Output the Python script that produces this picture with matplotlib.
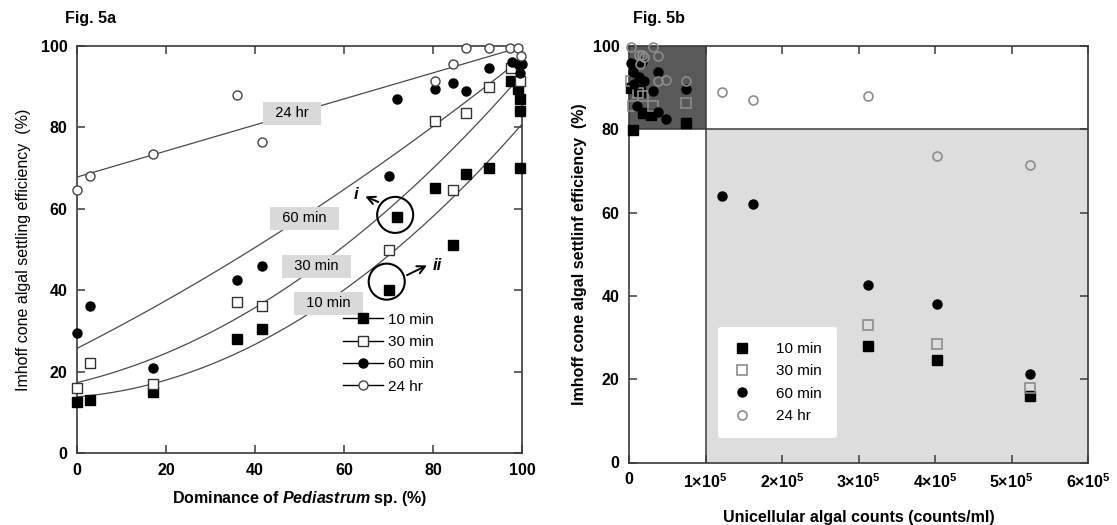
import matplotlib
matplotlib.use("Agg")
import matplotlib.pyplot as plt
import numpy as np
from matplotlib.patches import Ellipse, Rectangle
from matplotlib.lines import Line2D

plt.rcParams['font.family'] = ['Liberation Sans', 'DejaVu Sans']
plt.rcParams['mathtext.fontset'] = 'custom'
plt.rcParams['mathtext.it'] = 'Liberation Sans:bold:italic'
plt.rcParams['mathtext.bf'] = 'Liberation Sans:bold'
plt.rcParams['mathtext.rm'] = 'Liberation Sans:bold'

# ---------------- Fig. 5a data ----------------
series_names = ['10 min', '30 min', '60 min', '24 hr']
a_x10 = [0, 3, 17, 36, 41.5, 70, 72, 80.5, 84.5, 87.5, 92.5, 97.5, 99.2, 99.6, 99.6, 99.6]
a_y10 = [12.5, 13, 15, 28, 30.5, 40, 58, 65, 51, 68.5, 70, 91.5, 89.5, 87, 84, 70]
a_x30 = [0, 3, 17, 36, 41.5, 70, 80.5, 84.5, 87.5, 92.5, 97.5, 99.5]
a_y30 = [16, 22, 17, 37, 36, 50, 81.5, 64.5, 83.5, 90, 94.5, 91.5]
a_x60 = [0, 3, 17, 36, 41.5, 70, 72, 80.5, 84.5, 87.5, 92.5, 97.8, 99.2, 100, 99.6]
a_y60 = [29.5, 36, 21, 42.5, 46, 68, 87, 89.5, 91, 89, 94.5, 96, 95.5, 95.5, 93.3]
a_x24 = [0, 3, 17, 36, 41.5, 80.5, 84.5, 87.5, 92.5, 97.4, 99.2, 99.8]
a_y24 = [64.5, 68, 73.5, 88, 76.5, 91.5, 95.5, 99.5, 99.5, 99.5, 99.5, 97.5]

# fitted curves y = c0 + c1*x + c2*x^2
fit_10 = [13.8, 0.09, 0.0058]
fit_30 = [17.3, 0.262, 0.00495]
fit_60 = [25.7, 0.557, 0.00156]
fit_24 = [67.8, 0.32, 0.0]
curve_labels = ['24 hr', '60 min', '30 min', '10 min']
curve_label_xy = [(48.3, 83.5), (51.1, 57.7), (53.8, 45.9), (56.5, 36.8)]

# ---------------- Fig. 5b data ----------------
b_x10 = [3e3, 5e3, 11e3, 14e3, 18e3, 29e3, 74e3, 3.12e5, 4.02e5, 5.24e5]
b_y10 = [89.9, 79.8, 89.5, 89, 84, 83.4, 81.4, 28, 24.5, 15.9]
b_x30 = [3e3, 5e3, 12e3, 18e3, 31e3, 74e3, 3.12e5, 4.02e5, 5.24e5]
b_y30 = [91.6, 85.6, 88.7, 87.9, 85.6, 86.4, 32.9, 28.4, 18]
b_x60 = [3e3, 7e3, 17e3, 38e3, 5e3, 13e3, 20e3, 31e3, 74e3, 10e3, 38e3, 49e3, 7e3,
         1.21e5, 1.62e5, 3.12e5, 4.02e5, 5.24e5]
b_y60 = [95.9, 95.4, 96.2, 93.8, 93.8, 92.6, 91.6, 89.2, 89.6, 85.6, 84.2, 82.4, 90.8,
         64, 62, 42.7, 38, 21.2]
b_x24 = [3e3, 31e3, 13e3, 17.5e3, 20e3, 38e3, 15e3, 38e3, 49e3, 74e3, 1.21e5, 1.62e5,
         3.12e5, 4.02e5, 5.24e5]
b_y24 = [99.8, 99.8, 97.8, 97.8, 97.4, 97.6, 95.6, 91.5, 91.8, 91.5, 89, 87, 88, 73.5, 71.5]
b_xticks = [0, 1e5, 2e5, 3e5, 4e5, 5e5, 6e5]
b_xtick_labels = ['0', '1×10$^{5}$', '2×10$^{5}$', '3×10$^{5}$', '4×10$^{5}$',
                  '5×10$^{5}$', '6×10$^{5}$']

W, H = 1117, 525
fig = plt.figure(figsize=(W / 100, H / 100), dpi=100)

spine_c = '#3a3a3a'
line_c = '#4a4a4a'


def style_axes(ax):
    for s in ax.spines.values():
        s.set_color(spine_c)
        s.set_linewidth(1.2)
    ax.tick_params(direction='in', length=6, width=1.1, color=spine_c,
                   top=True, right=True, labelsize=11.5, pad=7)
    for lab in ax.get_xticklabels() + ax.get_yticklabels():
        lab.set_fontweight('bold')


# ---------------- Left panel ----------------
axL = fig.add_axes([77 / W, 1 - 453 / H, 445 / W, 407 / H])
xx = np.linspace(0, 100, 200)
for coef in (fit_10, fit_30, fit_60, fit_24):
    axL.plot(xx, coef[0] + coef[1] * xx + coef[2] * xx ** 2, color=line_c, lw=0.9, zorder=2)

ms = 6.5
axL.plot(a_x10, a_y10, 's', color='black', ms=ms, zorder=4, clip_on=False)
axL.plot(a_x30, a_y30, 's', mfc='white', mec='#333333', mew=1.0, ms=ms, zorder=4, clip_on=False)
axL.plot(a_x60, a_y60, 'o', color='black', ms=ms, zorder=4, clip_on=False)
axL.plot(a_x24, a_y24, 'o', mfc='white', mec='#444444', mew=1.0, ms=ms, zorder=4, clip_on=False)

for lab, (lx, ly) in zip(curve_labels, curve_label_xy):
    axL.text(lx, ly, '  ' + lab + '  ', ha='center', va='center', fontsize=10.5, zorder=3,
             bbox=dict(boxstyle='square,pad=0.3', fc='#d9d9d9', ec='none'))

# circles i and ii
axL.add_patch(Ellipse((71.5, 58.5), 8.1, 8.85, fill=False, ec='black', lw=1.5, zorder=5))
axL.add_patch(Ellipse((69.6, 42.1), 8.1, 8.85, fill=False, ec='black', lw=1.5, zorder=5))
axL.annotate('', xy=(64.2, 63.3), xytext=(68.3, 61.4),
             arrowprops=dict(arrowstyle='->', lw=1.4, color='black', mutation_scale=14))
axL.text(62.7, 63.4, 'i', fontsize=12, fontweight='bold', style='italic', ha='center', va='center')
axL.annotate('', xy=(79.2, 46.4), xytext=(73.6, 43.4),
             arrowprops=dict(arrowstyle='->', lw=1.4, color='black', mutation_scale=14))
axL.text(80.9, 46.0, 'ii', fontsize=12, fontweight='bold', style='italic', ha='center', va='center')

axL.set_xlim(0, 100)
axL.set_ylim(0, 100)
axL.set_xticks(range(0, 101, 20))
axL.set_yticks(range(0, 101, 20))
style_axes(axL)
axL.set_xlabel(r'Dominance of $\mathit{Pediastrum}$ sp. (%)', fontsize=11.5,
               fontweight='bold', labelpad=8)
axL.set_ylabel('Imhoff cone algal settling efficiency  (%)', fontsize=11.5,
               fontweight='normal', labelpad=7)

hL = [Line2D([], [], color='black', lw=1.0, marker='s', ms=ms, mfc='black', mec='black'),
      Line2D([], [], color='black', lw=1.0, marker='s', ms=ms, mfc='white', mec='#333333'),
      Line2D([], [], color='black', lw=1.0, marker='o', ms=ms, mfc='black', mec='black'),
      Line2D([], [], color='black', lw=1.0, marker='o', ms=ms, mfc='white', mec='#444444')]
axL.legend(hL, series_names, loc='upper left', bbox_to_anchor=(0.585, 0.36), frameon=False,
           fontsize=11, handlelength=2.6, handletextpad=0.3, labelspacing=0.55,
           borderaxespad=0)

fig.text(65 / W, 1 - 18 / H, 'Fig. 5a', fontsize=11.5, fontweight='bold', va='center')

# ---------------- Right panel ----------------
axR = fig.add_axes([629 / W, 1 - 462.5 / H, 459 / W, 416.5 / H])
axR.add_patch(Rectangle((0, 80), 1e5, 20, fc='#595959', ec='none', zorder=0))
axR.add_patch(Rectangle((1e5, 0), 5e5, 80, fc='#dcdddc', ec='none', zorder=0))
axR.axhline(80, color=spine_c, lw=1.1, zorder=1)
axR.axvline(1e5, color=spine_c, lw=1.1, zorder=1)

msr = 6.5
open_c = '#8c8c8c'
axR.plot(b_x10, b_y10, 's', color='black', ms=msr, ls='none', zorder=4, clip_on=False, label='10 min')
axR.plot(b_x30, b_y30, 's', mfc='none', mec=open_c, mew=1.2, ms=msr, ls='none', zorder=4,
         clip_on=False, label='30 min')
axR.plot(b_x60, b_y60, 'o', color='black', ms=msr, ls='none', zorder=4, clip_on=False, label='60 min')
axR.plot(b_x24, b_y24, 'o', mfc='none', mec=open_c, mew=1.2, ms=msr, ls='none', zorder=4,
         clip_on=False, label='24 hr')

axR.set_xlim(0, 6e5)
axR.set_ylim(0, 100)
axR.set_xticks(b_xticks)
axR.set_xticklabels(b_xtick_labels)
axR.set_yticks(range(0, 101, 20))
style_axes(axR)
axR.set_xlabel('Unicellular algal counts (counts/ml)', fontsize=11.5, fontweight='bold',
               labelpad=14)
axR.set_ylabel('Imhoff cone algal settlinf efficiency  (%)', fontsize=11.5,
               fontweight='bold', labelpad=4)
legR = axR.legend(loc='lower left', bbox_to_anchor=(0.194, 0.058), frameon=True,
                  fancybox=True, fontsize=11, handlelength=1.2, handletextpad=1.6,
                  labelspacing=0.55, borderpad=1.0, borderaxespad=0)
legR.get_frame().set_facecolor('white')
legR.get_frame().set_edgecolor('none')
legR.get_frame().set_alpha(1.0)

fig.text(633 / W, 1 - 18 / H, 'Fig. 5b', fontsize=11.5, fontweight='bold', va='center')

fig.savefig('out.png', dpi=100, facecolor='white')
